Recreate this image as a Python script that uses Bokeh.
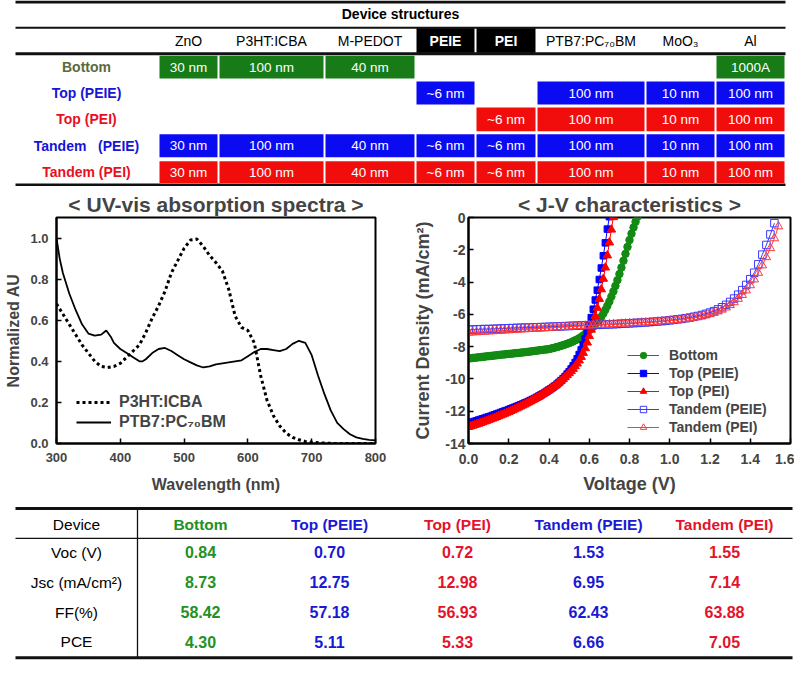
from bokeh.plotting import figure
from bokeh.models import Range1d, Legend, LegendItem, NumeralTickFormatter, ColumnDataSource
from bokeh.layouts import column, row
from bokeh.embed import file_html
from bokeh.resources import INLINE
from bokeh.core.properties import value

FONT = "Liberation Sans"

# ---------------- data ----------------
layers = ["ZnO", "P3HT:ICBA", "M-PEDOT", "PEIE", "PEI", "PTB7:PC\u2087\u2080BM", "MoO\u2083", "Al"]
device_rows = ["Bottom", "Top (PEIE)", "Top (PEI)", "Tandem\u00a0\u00a0 (PEIE)", "Tandem (PEI)"]
bottom_layers = ["30 nm", "100 nm", "40 nm", None, None, None, None, "1000A"]
top_peie_layers = [None, None, None, "~6 nm", None, "100 nm", "10 nm", "100 nm"]
top_pei_layers = [None, None, None, None, "~6 nm", "100 nm", "10 nm", "100 nm"]
tandem_peie_layers = ["30 nm", "100 nm", "40 nm", "~6 nm", "~6 nm", "100 nm", "10 nm", "100 nm"]
tandem_pei_layers = ["30 nm", "100 nm", "40 nm", "~6 nm", "~6 nm", "100 nm", "10 nm", "100 nm"]
structure_rows = [bottom_layers, top_peie_layers, top_pei_layers, tandem_peie_layers, tandem_pei_layers]

# UV-vis
wl_p3ht = [300, 310, 320, 330, 340, 350, 360, 370, 380, 390, 400, 410, 420, 430, 440, 450, 460, 470,
           480, 490, 500, 510, 520, 530, 540, 550, 560, 570, 580, 590, 600, 610, 620, 630, 640, 650,
           660, 670, 680, 690, 700, 710, 720, 730, 740, 750, 760, 770, 780, 790, 800]
abs_p3ht = [0.68, 0.63, 0.58, 0.53, 0.48, 0.44, 0.40, 0.375, 0.37, 0.375, 0.39, 0.42, 0.45, 0.48,
            0.54, 0.61, 0.67, 0.74, 0.83, 0.89, 0.95, 0.99, 0.995, 0.96, 0.915, 0.88, 0.84, 0.75,
            0.62, 0.565, 0.55, 0.49, 0.33, 0.21, 0.135, 0.085, 0.05, 0.03, 0.018, 0.01, 0.006,
            0.004, 0.002, 0.001, 0.0, 0.0, 0.0, 0.0, 0.0, 0.0, 0.0]
wl_ptb7 = [300, 305, 310, 320, 330, 340, 350, 360, 370, 378, 385, 390, 400, 410, 420, 430, 435, 440,
           450, 460, 470, 480, 490, 500, 510, 520, 530, 540, 550, 560, 570, 580, 590, 600, 610, 620,
           630, 640, 650, 660, 670, 680, 690, 700, 710, 720, 730, 740, 750, 760, 770, 780, 790, 800]
abs_ptb7 = [1.00, 0.90, 0.83, 0.73, 0.65, 0.58, 0.535, 0.525, 0.53, 0.55, 0.52, 0.49, 0.46, 0.44,
            0.42, 0.40, 0.40, 0.41, 0.44, 0.46, 0.465, 0.45, 0.43, 0.41, 0.395, 0.38, 0.37, 0.375,
            0.385, 0.39, 0.395, 0.40, 0.405, 0.425, 0.445, 0.46, 0.46, 0.455, 0.45, 0.46, 0.485,
            0.50, 0.49, 0.43, 0.33, 0.24, 0.16, 0.10, 0.07, 0.045, 0.03, 0.022, 0.018, 0.015]

# J-V (voltage sweep steps: 0.01 V for single cells, 0.02 V for tandem cells)
j_bottom = [-8.73, -8.72, -8.70, -8.69, -8.68, -8.66, -8.65, -8.63, -8.62, -8.60, -8.59, -8.58, -8.56,
            -8.55, -8.53, -8.52, -8.50, -8.49, -8.48, -8.46, -8.45,
            -8.44, -8.43, -8.41, -8.40, -8.39, -8.37, -8.36, -8.34, -8.33, -8.31, -8.30, -8.28, -8.26,
            -8.25, -8.23, -8.21, -8.20, -8.18, -8.17, -8.15,
            -8.12, -8.09, -8.06, -8.02, -7.99, -7.95, -7.91, -7.87, -7.82, -7.78, -7.73, -7.67, -7.61,
            -7.55, -7.48, -7.40, -7.31, -7.21, -7.10, -6.98,
            -6.88, -6.76, -6.62, -6.47, -6.31, -6.15, -5.95, -5.72, -5.47, -5.20, -4.90, -4.58, -4.24,
            -3.88, -3.50, -3.10, -2.68, -2.25, -1.82, -1.40, -1.00, -0.62, -0.27, 0.05]
j_top_peie = [-12.75, -12.71, -12.67, -12.63, -12.59, -12.55, -12.51, -12.47, -12.43, -12.39,
              -12.35, -12.31, -12.26, -12.22, -12.17, -12.13, -12.08, -12.04, -11.99, -11.95,
              -11.90, -11.85, -11.80, -11.75, -11.70, -11.65, -11.60, -11.55, -11.49, -11.44,
              -11.38, -11.32, -11.26, -11.20, -11.13, -11.06, -10.99, -10.92, -10.84, -10.76,
              -10.68, -10.60, -10.51, -10.42, -10.32, -10.21, -10.10, -9.98, -9.85, -9.70,
              -9.55, -9.38, -9.19, -8.98, -8.75, -8.49, -8.20, -7.88, -7.52, -7.12,
              -6.68, -6.20, -5.68, -5.11, -4.50, -3.84, -3.13, -2.37, -1.57, -0.72, 0.05]
j_top_pei = [-12.98, -12.94, -12.90, -12.86, -12.82, -12.78, -12.73, -12.69, -12.64, -12.60,
             -12.55, -12.50, -12.46, -12.41, -12.36, -12.31, -12.26, -12.21, -12.16, -12.10,
             -12.05, -11.99, -11.94, -11.88, -11.82, -11.76, -11.70, -11.64, -11.58, -11.51,
             -11.45, -11.38, -11.31, -11.24, -11.17, -11.10, -11.02, -10.94, -10.86, -10.78,
             -10.70, -10.61, -10.52, -10.43, -10.33, -10.23, -10.12, -10.01, -9.89, -9.77,
             -9.65, -9.52, -9.38, -9.22, -9.05, -8.86, -8.64, -8.39, -8.10, -7.75,
             -7.35, -6.95, -6.55, -6.10, -5.60, -5.05, -4.45, -3.80, -3.10, -2.35,
             -1.55, -0.75, 0.02]
j_tandem_peie = [-6.95, -6.94, -6.93, -6.92, -6.91, -6.91, -6.90, -6.89, -6.88, -6.87,
                 -6.86, -6.85, -6.84, -6.83, -6.82, -6.82, -6.81, -6.80, -6.79, -6.78,
                 -6.77, -6.76, -6.75, -6.74, -6.73, -6.72, -6.71, -6.70, -6.69, -6.68,
                 -6.67, -6.66, -6.65, -6.64, -6.63, -6.62, -6.61, -6.60, -6.58, -6.57,
                 -6.56, -6.54, -6.53, -6.51, -6.50, -6.48, -6.46, -6.44, -6.42, -6.40,
                 -6.37, -6.34, -6.31, -6.28, -6.24, -6.20, -6.15, -6.10, -6.04, -5.97,
                 -5.89, -5.80, -5.69, -5.56, -5.41, -5.23, -5.02, -4.78, -4.50, -4.18,
                 -3.82, -3.42, -2.90, -2.30, -1.70, -1.05, -0.35]
j_tandem_pei = [-7.14, -7.12, -7.11, -7.09, -7.08, -7.06, -7.05, -7.03, -7.02, -7.00,
                -6.99, -6.97, -6.96, -6.94, -6.93, -6.91, -6.90, -6.88, -6.87, -6.85,
                -6.84, -6.82, -6.81, -6.79, -6.78, -6.76, -6.75, -6.73, -6.72, -6.70,
                -6.69, -6.68, -6.66, -6.65, -6.64, -6.62, -6.61, -6.60, -6.58, -6.57,
                -6.56, -6.54, -6.53, -6.51, -6.50, -6.48, -6.47, -6.45, -6.43, -6.41,
                -6.39, -6.37, -6.34, -6.31, -6.28, -6.25, -6.21, -6.17, -6.12, -6.06,
                -5.99, -5.91, -5.82, -5.71, -5.58, -5.43, -5.25, -5.04, -4.80, -4.52,
                -4.20, -3.84, -3.43, -2.97, -2.46, -1.90, -1.29, -0.55]
v_single_step = 0.01
v_tandem_step = 0.02

# performance table
perf_devices = ["Bottom", "Top (PEIE)", "Top (PEI)", "Tandem (PEIE)", "Tandem (PEI)"]
perf_params = ["Voc (V)", "Jsc (mA/cm\u00b2)", "FF(%)", "PCE"]
voc = [0.84, 0.70, 0.72, 1.53, 1.55]
jsc = [8.73, 12.75, 12.98, 6.95, 7.14]
ff = [58.42, 57.18, 56.93, 62.43, 63.88]
pce = [4.30, 5.11, 5.33, 6.66, 7.05]

# ---------------- styles / layout constants ----------------
CELL_COLORS = ["#177c17", "#0b0bf2", "#f20d0d", "#0b0bf2", "#f20d0d"]
ROW_LABEL_COLORS = ["#5b6a3c", "#1515d6", "#e8101e", "#1515d6", "#e8101e"]
PERF_COLORS = ["#239123", "#1a1ad4", "#e3132b", "#1a1ad4", "#e3132b"]
col_edges = [(159, 217), (219, 323), (325, 414), (416, 474), (476, 535), (537, 644), (646, 714), (716, 784)]
row_edges = [(56, 79), (82, 105), (108, 132), (135, 158), (162, 184)]


def blank(fig):
    fig.grid.visible = False
    fig.outline_line_color = None
    fig.min_border = 0


# ---------------- top table ----------------
t = figure(width=794, height=186, x_range=Range1d(0, 794), y_range=Range1d(187.5, 0.5),
           output_backend="svg", toolbar_location=None, x_axis_type=None, y_axis_type=None,
           min_border=0)
blank(t)

for yy, w in [(2, 3), (28, 2), (54, 3), (186, 3)]:
    t.segment(x0=[15], y0=[yy], x1=[785], y1=[yy], line_color="#111111", line_width=w)

t.text(x=[400], y=[14], text=["Device structures"], text_font=value(FONT), text_font_size="14px",
       text_font_style="bold", text_align="center", text_baseline="middle", text_color="black")

hdr_x = [(a + b) / 2 for a, b in col_edges]
dark = [i for i, n in enumerate(layers) if n in ("PEIE", "PEI")]
t.quad(left=[col_edges[i][0] for i in dark], right=[col_edges[i][1] for i in dark],
       top=[28.5] * len(dark), bottom=[53] * len(dark), fill_color="black", line_color=None)
t.text(x=[hdr_x[i] for i in range(len(layers)) if i not in dark],
       y=[41] * (len(layers) - len(dark)),
       text=[layers[i] for i in range(len(layers)) if i not in dark],
       text_font=value(FONT), text_font_size="14px", text_align="center", text_baseline="middle",
       text_color="black")
t.text(x=[hdr_x[i] for i in dark], y=[41] * len(dark), text=[layers[i] for i in dark],
       text_font=value(FONT), text_font_size="14px", text_font_style="bold", text_align="center",
       text_baseline="middle", text_color="white")

cells = dict(l=[], r=[], tp=[], bt=[], cx=[], cy=[], c=[], txt=[])
for ri, rvals in enumerate(structure_rows):
    for ci, txt in enumerate(rvals):
        if txt is None:
            continue
        cells["l"].append(col_edges[ci][0]); cells["r"].append(col_edges[ci][1])
        cells["tp"].append(row_edges[ri][0]); cells["bt"].append(row_edges[ri][1])
        cells["cx"].append(hdr_x[ci]); cells["cy"].append(sum(row_edges[ri]) / 2)
        cells["c"].append(CELL_COLORS[ri]); cells["txt"].append(txt)
csrc = ColumnDataSource(cells)
t.quad(left="l", right="r", top="tp", bottom="bt", fill_color="c", line_color=None, source=csrc)
t.text(x="cx", y="cy", text="txt", source=csrc, text_font=value(FONT), text_font_size="13.5px",
       text_align="center", text_baseline="middle", text_color="white")
t.text(x=[86] * len(device_rows), y=[sum(e) / 2 for e in row_edges], text=device_rows,
       text_color=ROW_LABEL_COLORS, text_font=value(FONT), text_font_size="14px",
       text_font_style="bold", text_align="center", text_baseline="middle")


def style_axes(p, tick_px, label_px):
    p.grid.visible = False
    p.outline_line_color = "black"
    p.outline_line_width = 2
    for ax in p.axis:
        ax.axis_line_width = 2
        ax.major_tick_in = 5
        ax.major_tick_out = 0
        ax.major_tick_line_width = 1.5
        ax.minor_tick_line_color = None
        ax.major_label_text_font = FONT
        ax.major_label_text_font_style = "bold"
        ax.major_label_text_font_size = tick_px
        ax.axis_label_text_font = FONT
        ax.axis_label_text_font_style = "bold"
        ax.axis_label_text_font_size = label_px
    p.title.text_font = FONT
    p.title.text_font_size = "21px"
    p.title.text_font_style = "bold"
    p.title.align = "center"
    p.title.standoff = 4


# ---------------- UV-vis ----------------
uv = figure(width=405, height=310, x_range=Range1d(300, 800), y_range=Range1d(0, 1.1),
            output_backend="svg", toolbar_location=None, title="< UV-vis absorption spectra >",
            min_border_left=56, min_border_right=30, min_border_top=31, min_border_bottom=52)
style_axes(uv, "13px", "16px")
uv.xaxis.ticker = [300, 400, 500, 600, 700, 800]
uv.yaxis.ticker = [0.0, 0.2, 0.4, 0.6, 0.8, 1.0]
uv.yaxis.formatter = NumeralTickFormatter(format="0.0")
uv.xaxis.axis_label = "Wavelength (nm)"
uv.yaxis.axis_label = "Normalized AU"
uv.xaxis.major_label_standoff = 9
uv.yaxis.major_label_standoff = 8
uv.xaxis.axis_label_standoff = 11
uv.yaxis.axis_label_standoff = 5
r_p3 = uv.line(wl_p3ht, abs_p3ht, line_color="black", line_width=3, line_dash="3 3")
r_ptb = uv.line(wl_ptb7, abs_ptb7, line_color="black", line_width=1.8)
uv_leg = Legend(items=[LegendItem(label="P3HT:ICBA", renderers=[r_p3]),
                       LegendItem(label="PTB7:PC\u2087\u2080BM", renderers=[r_ptb])],
                location=(20, 12), label_text_font=FONT, label_text_font_size="16px",
                label_text_font_style="bold", glyph_width=35, glyph_height=18, label_height=18,
                spacing=2, padding=0, margin=0, label_standoff=8, border_line_color=None,
                background_fill_alpha=0)
uv.add_layout(uv_leg)

# ---------------- J-V ----------------
jv = figure(width=389, height=310, x_range=Range1d(0, 1.6), y_range=Range1d(-14, 0),
            output_backend="svg", toolbar_location=None, title="< J-V characteristics >",
            min_border_left=63, min_border_right=4, min_border_top=31, min_border_bottom=52)
style_axes(jv, "14px", "18px")
jv.xaxis.ticker = [0.0, 0.2, 0.4, 0.6, 0.8, 1.0, 1.2, 1.4, 1.6]
jv.yaxis.ticker = [0, -2, -4, -6, -8, -10, -12, -14]
jv.xaxis.formatter = NumeralTickFormatter(format="0.0")
jv.yaxis.formatter = NumeralTickFormatter(format="0")
jv.xaxis.axis_label = "Voltage (V)"
jv.yaxis.axis_label = "Current Density (mA/cm\u00b2)"
jv.xaxis.major_label_standoff = 10
jv.yaxis.major_label_standoff = 3
jv.xaxis.axis_label_standoff = 7
jv.yaxis.axis_label_standoff = 9

series = [
    ("Bottom", j_bottom, v_single_step, "circle", 7.5, "#138a13", "#138a13"),
    ("Top (PEIE)", j_top_peie, v_single_step, "square", 6.5, "#0000ff", "#0000ff"),
    ("Top (PEI)", j_top_pei, v_single_step, "triangle", 8.5, "#ff0000", "#ff0000"),
    ("Tandem (PEIE)", j_tandem_peie, v_tandem_step, "square", 7.5, "#3a3aff", None),
    ("Tandem (PEI)", j_tandem_pei, v_tandem_step, "triangle", 8.5, "#ff3a3a", None),
]
items = []
for name, jj, step, mk, sz, col, fill in series:
    vv = [round(step * i, 2) for i in range(len(jj))]
    rl = jv.line(vv, jj, line_color=col, line_width=1)
    rs = jv.scatter(vv, jj, marker=mk, size=sz, line_color=col, fill_color=fill, line_width=1)
    items.append(LegendItem(label=name, renderers=[rl, rs]))
jv_leg = Legend(items=items, location=(159, 8), label_text_font=FONT, label_text_font_size="14px",
                label_text_font_style="bold", glyph_width=32, glyph_height=16, label_height=16,
                spacing=2, padding=0, margin=0, label_standoff=10, border_line_color=None,
                background_fill_alpha=0)
jv.add_layout(jv_leg)

# ---------------- performance table ----------------
b = figure(width=794, height=164, x_range=Range1d(0, 794), y_range=Range1d(676, 500),
           output_backend="svg", toolbar_location=None, x_axis_type=None, y_axis_type=None,
           min_border=0)
blank(b)
for yy, w in [(513, 3), (545, 1.3), (673, 3)]:
    b.segment(x0=[15], y0=[yy], x1=[792], y1=[yy], line_color="#111111", line_width=w)
b.segment(x0=[137], y0=[513], x1=[137], y1=[673], line_color="#111111", line_width=1.3)

col_x = [200, 329, 457, 588, 724]
row_y = [560, 592, 624, 656]
b.text(x=[76], y=[530], text=["Device"], text_font=value(FONT), text_font_size="15.5px",
       text_align="center", text_baseline="middle", text_color="black")
b.text(x=col_x, y=[530] * 5, text=perf_devices, text_color=PERF_COLORS, text_font=value(FONT),
       text_font_size="15.5px", text_font_style="bold", text_align="center", text_baseline="middle")
b.text(x=[76] * 4, y=row_y, text=perf_params, text_font=value(FONT), text_font_size="15.5px",
       text_align="center", text_baseline="middle", text_color="black")
vals = dict(x=[], y=[], t=[], c=[])
for ri, arr in enumerate([voc, jsc, ff, pce]):
    for ci, vv in enumerate(arr):
        vals["x"].append(col_x[ci]); vals["y"].append(row_y[ri])
        vals["t"].append("%.2f" % vv); vals["c"].append(PERF_COLORS[ci])
b.text(x="x", y="y", text="t", text_color="c", source=ColumnDataSource(vals),
       text_font=value(FONT), text_font_size="16px", text_font_style="bold",
       text_align="center", text_baseline="middle")

layout = column(t, row(uv, jv), b)
open("out.html", "w").write(file_html(layout, INLINE))
